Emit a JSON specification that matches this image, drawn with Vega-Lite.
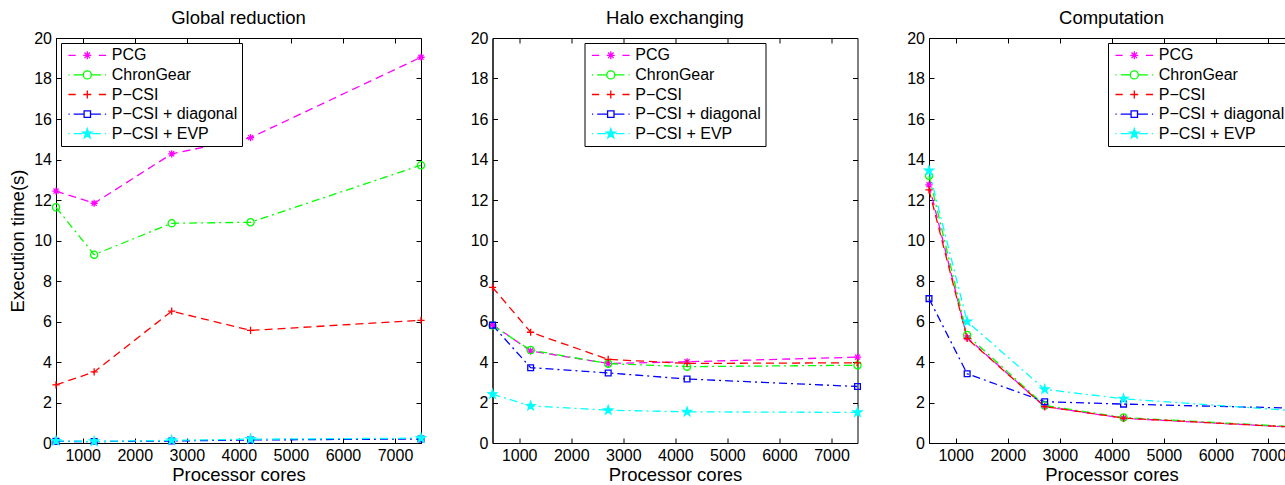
{
  "$schema": "https://vega.github.io/schema/vega-lite/v6.json",
  "background": "white",
  "padding": {"left": 8, "top": 8, "right": 0, "bottom": 0},
  "datasets": {
    "timing": [
      {"panel": "global", "series": "PCG", "cores": 487, "time": 12.44},
      {"panel": "global", "series": "PCG", "cores": 1220, "time": 11.84},
      {"panel": "global", "series": "PCG", "cores": 2710, "time": 14.28},
      {"panel": "global", "series": "PCG", "cores": 4225, "time": 15.08},
      {"panel": "global", "series": "PCG", "cores": 7500, "time": 19.05},
      {"panel": "global", "series": "ChronGear", "cores": 487, "time": 11.64},
      {"panel": "global", "series": "ChronGear", "cores": 1220, "time": 9.3},
      {"panel": "global", "series": "ChronGear", "cores": 2710, "time": 10.85},
      {"panel": "global", "series": "ChronGear", "cores": 4225, "time": 10.9},
      {"panel": "global", "series": "ChronGear", "cores": 7500, "time": 13.72},
      {"panel": "global", "series": "P−CSI", "cores": 487, "time": 2.87},
      {"panel": "global", "series": "P−CSI", "cores": 1220, "time": 3.51},
      {"panel": "global", "series": "P−CSI", "cores": 2710, "time": 6.51},
      {"panel": "global", "series": "P−CSI", "cores": 4225, "time": 5.56},
      {"panel": "global", "series": "P−CSI", "cores": 7500, "time": 6.06},
      {"panel": "global", "series": "P−CSI + diagonal", "cores": 487, "time": 0.08},
      {"panel": "global", "series": "P−CSI + diagonal", "cores": 1220, "time": 0.07},
      {"panel": "global", "series": "P−CSI + diagonal", "cores": 2710, "time": 0.1},
      {"panel": "global", "series": "P−CSI + diagonal", "cores": 4225, "time": 0.15},
      {"panel": "global", "series": "P−CSI + diagonal", "cores": 7500, "time": 0.2},
      {"panel": "global", "series": "P−CSI + EVP", "cores": 487, "time": 0.1},
      {"panel": "global", "series": "P−CSI + EVP", "cores": 1220, "time": 0.08},
      {"panel": "global", "series": "P−CSI + EVP", "cores": 2710, "time": 0.13},
      {"panel": "global", "series": "P−CSI + EVP", "cores": 4225, "time": 0.19},
      {"panel": "global", "series": "P−CSI + EVP", "cores": 7500, "time": 0.24},

      {"panel": "halo", "series": "PCG", "cores": 487, "time": 5.85},
      {"panel": "halo", "series": "PCG", "cores": 1220, "time": 4.54},
      {"panel": "halo", "series": "PCG", "cores": 2710, "time": 3.93},
      {"panel": "halo", "series": "PCG", "cores": 4225, "time": 4.01},
      {"panel": "halo", "series": "PCG", "cores": 7500, "time": 4.24},
      {"panel": "halo", "series": "ChronGear", "cores": 487, "time": 5.8},
      {"panel": "halo", "series": "ChronGear", "cores": 1220, "time": 4.59},
      {"panel": "halo", "series": "ChronGear", "cores": 2710, "time": 3.92},
      {"panel": "halo", "series": "ChronGear", "cores": 4225, "time": 3.77},
      {"panel": "halo", "series": "ChronGear", "cores": 7500, "time": 3.84},
      {"panel": "halo", "series": "P−CSI", "cores": 487, "time": 7.69},
      {"panel": "halo", "series": "P−CSI", "cores": 1220, "time": 5.47},
      {"panel": "halo", "series": "P−CSI", "cores": 2710, "time": 4.13},
      {"panel": "halo", "series": "P−CSI", "cores": 4225, "time": 3.93},
      {"panel": "halo", "series": "P−CSI", "cores": 7500, "time": 3.96},
      {"panel": "halo", "series": "P−CSI + diagonal", "cores": 487, "time": 5.82},
      {"panel": "halo", "series": "P−CSI + diagonal", "cores": 1220, "time": 3.72},
      {"panel": "halo", "series": "P−CSI + diagonal", "cores": 2710, "time": 3.46},
      {"panel": "halo", "series": "P−CSI + diagonal", "cores": 4225, "time": 3.16},
      {"panel": "halo", "series": "P−CSI + diagonal", "cores": 7500, "time": 2.79},
      {"panel": "halo", "series": "P−CSI + EVP", "cores": 487, "time": 2.41},
      {"panel": "halo", "series": "P−CSI + EVP", "cores": 1220, "time": 1.83},
      {"panel": "halo", "series": "P−CSI + EVP", "cores": 2710, "time": 1.62},
      {"panel": "halo", "series": "P−CSI + EVP", "cores": 4225, "time": 1.54},
      {"panel": "halo", "series": "P−CSI + EVP", "cores": 7500, "time": 1.51},

      {"panel": "comp", "series": "PCG", "cores": 487, "time": 12.75},
      {"panel": "comp", "series": "PCG", "cores": 1220, "time": 5.2},
      {"panel": "comp", "series": "PCG", "cores": 2710, "time": 1.8},
      {"panel": "comp", "series": "PCG", "cores": 4225, "time": 1.22},
      {"panel": "comp", "series": "PCG", "cores": 7500, "time": 0.78},
      {"panel": "comp", "series": "ChronGear", "cores": 487, "time": 13.2},
      {"panel": "comp", "series": "ChronGear", "cores": 1220, "time": 5.33},
      {"panel": "comp", "series": "ChronGear", "cores": 2710, "time": 1.85},
      {"panel": "comp", "series": "ChronGear", "cores": 4225, "time": 1.26},
      {"panel": "comp", "series": "ChronGear", "cores": 7500, "time": 0.8},
      {"panel": "comp", "series": "P−CSI", "cores": 487, "time": 12.5},
      {"panel": "comp", "series": "P−CSI", "cores": 1220, "time": 5.16},
      {"panel": "comp", "series": "P−CSI", "cores": 2710, "time": 1.8},
      {"panel": "comp", "series": "P−CSI", "cores": 4225, "time": 1.23},
      {"panel": "comp", "series": "P−CSI", "cores": 7500, "time": 0.78},
      {"panel": "comp", "series": "P−CSI + diagonal", "cores": 487, "time": 7.13},
      {"panel": "comp", "series": "P−CSI + diagonal", "cores": 1220, "time": 3.42},
      {"panel": "comp", "series": "P−CSI + diagonal", "cores": 2710, "time": 2.04},
      {"panel": "comp", "series": "P−CSI + diagonal", "cores": 4225, "time": 1.92},
      {"panel": "comp", "series": "P−CSI + diagonal", "cores": 7500, "time": 1.72},
      {"panel": "comp", "series": "P−CSI + EVP", "cores": 487, "time": 13.45},
      {"panel": "comp", "series": "P−CSI + EVP", "cores": 1220, "time": 6.0},
      {"panel": "comp", "series": "P−CSI + EVP", "cores": 2710, "time": 2.65},
      {"panel": "comp", "series": "P−CSI + EVP", "cores": 4225, "time": 2.18},
      {"panel": "comp", "series": "P−CSI + EVP", "cores": 7500, "time": 1.6}
    ]
  },
  "data": {"name": "timing"},
  "spacing": 40.5,
  "hconcat": [
    {
      "width": 365,
      "height": 405,
      "title": {"text": "Global reduction"},
      "transform": [{"filter": "datum.panel === 'global'"}],
      "layer": [
        {
          "mark": {"type": "line", "strokeWidth": 1.3},
          "encoding": {
            "x": {"field": "cores", "type": "quantitative", "scale": {"domain": [487, 7500], "nice": false, "zero": false}, "axis": {"values": [1000, 2000, 3000, 4000, 5000, 6000, 7000], "format": "d", "title": "Processor cores"}},
            "y": {"field": "time", "type": "quantitative", "scale": {"domain": [0, 20], "nice": false}, "axis": {"values": [0, 2, 4, 6, 8, 10, 12, 14, 16, 18, 20], "title": "Execution time(s)"}},
            "color": {"field": "series", "type": "nominal", "scale": {"domain": ["PCG", "ChronGear", "P−CSI", "P−CSI + diagonal", "P−CSI + EVP"], "range": ["#ff00ff", "#00ff00", "#ff0000", "#0000ff", "#00ffff"]}, "legend": null},
            "strokeDash": {"field": "series", "type": "nominal", "scale": {"domain": ["PCG", "ChronGear", "P−CSI", "P−CSI + diagonal", "P−CSI + EVP"], "range": [[8, 5], [8, 4, 2, 4], [8, 5], [8, 4, 2, 4], [8, 4, 2, 4]]}, "legend": null}
          }
        },
        {
          "mark": {"type": "point", "filled": false, "size": 52, "strokeWidth": 1.3, "opacity": 1},
          "encoding": {
            "x": {"field": "cores", "type": "quantitative", "axis": {"orient": "top", "values": [1000, 2000, 3000, 4000, 5000, 6000, 7000], "labels": false, "title": null, "domain": false}},
            "y": {"field": "time", "type": "quantitative", "axis": {"orient": "right", "values": [0, 2, 4, 6, 8, 10, 12, 14, 16, 18, 20], "labels": false, "title": null, "domain": false}},
            "color": {"field": "series", "type": "nominal", "scale": {"domain": ["PCG", "ChronGear", "P−CSI", "P−CSI + diagonal", "P−CSI + EVP"], "range": ["#ff00ff", "#00ff00", "#ff0000", "#0000ff", "#00ffff"]}, "legend": null},
            "shape": {"field": "series", "type": "nominal", "scale": {"domain": ["PCG", "ChronGear", "P−CSI", "P−CSI + diagonal", "P−CSI + EVP"], "range": ["M-1,0L1,0M0,-1L0,1M-0.7,-0.7L0.7,0.7M-0.7,0.7L0.7,-0.7", "M1,0A1,1,0,1,1,-1,0A1,1,0,1,1,1,0Z", "M-1,0L1,0M0,-1L0,1", "M-0.8,-0.8L0.8,-0.8L0.8,0.8L-0.8,0.8Z", "M0,-1.25L0.28,-0.39L1.19,-0.39L0.46,0.15L0.73,1.01L0,0.48L-0.73,1.01L-0.46,0.15L-1.19,-0.39L-0.28,-0.39Z"]}, "legend": null},
            "fill": {"field": "series", "type": "nominal", "scale": {"domain": ["PCG", "ChronGear", "P−CSI", "P−CSI + diagonal", "P−CSI + EVP"], "range": ["#ff00ff", "transparent", "transparent", "transparent", "#00ffff"]}, "legend": null}
          }
        },
        {
          "transform": [{"filter": "false"}],
          "mark": {"type": "point", "filled": false, "strokeWidth": 1.3, "opacity": 1},
          "encoding": {
            "x": {"field": "cores", "type": "quantitative", "axis": null},
            "y": {"field": "time", "type": "quantitative", "axis": null},
            "color": {"field": "series", "type": "nominal", "scale": {"domain": ["PCG", "ChronGear", "P−CSI", "P−CSI + diagonal", "P−CSI + EVP"], "range": ["#ff00ff", "#00ff00", "#ff0000", "#0000ff", "#00ffff"]}, "legend": {"orient": "top-left", "offset": 5, "title": null}},
            "shape": {"field": "series", "type": "nominal", "scale": {"domain": ["PCG", "ChronGear", "P−CSI", "P−CSI + diagonal", "P−CSI + EVP"], "range": ["M-4.7,0L-2.9,0M2.9,0L4.7,0M-1,0L1,0M0,-1L0,1M-0.7,-0.7L0.7,0.7M-0.7,0.7L0.7,-0.7", "M-4.7,0L-4.4,0M-3.4,0L-1,0M1,0L3.4,0M4.4,0L4.7,0M1,0A1,1,0,1,1,-1,0A1,1,0,1,1,1,0Z", "M-4.7,0L-2.9,0M2.9,0L4.7,0M-1,0L1,0M0,-1L0,1", "M-4.7,0L-4.4,0M-3.4,0L-0.8,0M0.8,0L3.4,0M4.4,0L4.7,0M-0.8,-0.8L0.8,-0.8L0.8,0.8L-0.8,0.8Z", "M-4.7,0L-4.4,0M-3.4,0L-1.2,0M1.2,0L3.4,0M4.4,0L4.7,0M0,-1.25L0.28,-0.39L1.19,-0.39L0.46,0.15L0.73,1.01L0,0.48L-0.73,1.01L-0.46,0.15L-1.19,-0.39L-0.28,-0.39Z"]}, "legend": null},
            "fill": {"field": "series", "type": "nominal", "scale": {"domain": ["PCG", "ChronGear", "P−CSI", "P−CSI + diagonal", "P−CSI + EVP"], "range": ["#ff00ff", "transparent", "transparent", "transparent", "#00ffff"]}, "legend": null}
          }
        }
      ],
      "resolve": {"axis": {"x": "independent", "y": "independent"}, "scale": {"color": "independent", "shape": "independent", "fill": "independent"}}
    },
    {
      "width": 365,
      "height": 405,
      "title": {"text": "Halo exchanging"},
      "transform": [{"filter": "datum.panel === 'halo'"}],
      "layer": [
        {
          "mark": {"type": "line", "strokeWidth": 1.3},
          "encoding": {
            "x": {"field": "cores", "type": "quantitative", "scale": {"domain": [487, 7500], "nice": false, "zero": false}, "axis": {"values": [1000, 2000, 3000, 4000, 5000, 6000, 7000], "format": "d", "title": "Processor cores"}},
            "y": {"field": "time", "type": "quantitative", "scale": {"domain": [0, 20], "nice": false}, "axis": {"values": [0, 2, 4, 6, 8, 10, 12, 14, 16, 18, 20], "title": null}},
            "color": {"field": "series", "type": "nominal", "scale": {"domain": ["PCG", "ChronGear", "P−CSI", "P−CSI + diagonal", "P−CSI + EVP"], "range": ["#ff00ff", "#00ff00", "#ff0000", "#0000ff", "#00ffff"]}, "legend": null},
            "strokeDash": {"field": "series", "type": "nominal", "scale": {"domain": ["PCG", "ChronGear", "P−CSI", "P−CSI + diagonal", "P−CSI + EVP"], "range": [[8, 5], [8, 4, 2, 4], [8, 5], [8, 4, 2, 4], [8, 4, 2, 4]]}, "legend": null}
          }
        },
        {
          "mark": {"type": "point", "filled": false, "size": 52, "strokeWidth": 1.3, "opacity": 1},
          "encoding": {
            "x": {"field": "cores", "type": "quantitative", "axis": {"orient": "top", "values": [1000, 2000, 3000, 4000, 5000, 6000, 7000], "labels": false, "title": null, "domain": false}},
            "y": {"field": "time", "type": "quantitative", "axis": {"orient": "right", "values": [0, 2, 4, 6, 8, 10, 12, 14, 16, 18, 20], "labels": false, "title": null, "domain": false}},
            "color": {"field": "series", "type": "nominal", "scale": {"domain": ["PCG", "ChronGear", "P−CSI", "P−CSI + diagonal", "P−CSI + EVP"], "range": ["#ff00ff", "#00ff00", "#ff0000", "#0000ff", "#00ffff"]}, "legend": null},
            "shape": {"field": "series", "type": "nominal", "scale": {"domain": ["PCG", "ChronGear", "P−CSI", "P−CSI + diagonal", "P−CSI + EVP"], "range": ["M-1,0L1,0M0,-1L0,1M-0.7,-0.7L0.7,0.7M-0.7,0.7L0.7,-0.7", "M1,0A1,1,0,1,1,-1,0A1,1,0,1,1,1,0Z", "M-1,0L1,0M0,-1L0,1", "M-0.8,-0.8L0.8,-0.8L0.8,0.8L-0.8,0.8Z", "M0,-1.25L0.28,-0.39L1.19,-0.39L0.46,0.15L0.73,1.01L0,0.48L-0.73,1.01L-0.46,0.15L-1.19,-0.39L-0.28,-0.39Z"]}, "legend": null},
            "fill": {"field": "series", "type": "nominal", "scale": {"domain": ["PCG", "ChronGear", "P−CSI", "P−CSI + diagonal", "P−CSI + EVP"], "range": ["#ff00ff", "transparent", "transparent", "transparent", "#00ffff"]}, "legend": null}
          }
        },
        {
          "transform": [{"filter": "false"}],
          "mark": {"type": "point", "filled": false, "strokeWidth": 1.3, "opacity": 1},
          "encoding": {
            "x": {"field": "cores", "type": "quantitative", "axis": null},
            "y": {"field": "time", "type": "quantitative", "axis": null},
            "color": {"field": "series", "type": "nominal", "scale": {"domain": ["PCG", "ChronGear", "P−CSI", "P−CSI + diagonal", "P−CSI + EVP"], "range": ["#ff00ff", "#00ff00", "#ff0000", "#0000ff", "#00ffff"]}, "legend": {"orient": "none", "legendX": 92, "legendY": 5, "title": null}},
            "shape": {"field": "series", "type": "nominal", "scale": {"domain": ["PCG", "ChronGear", "P−CSI", "P−CSI + diagonal", "P−CSI + EVP"], "range": ["M-4.7,0L-2.9,0M2.9,0L4.7,0M-1,0L1,0M0,-1L0,1M-0.7,-0.7L0.7,0.7M-0.7,0.7L0.7,-0.7", "M-4.7,0L-4.4,0M-3.4,0L-1,0M1,0L3.4,0M4.4,0L4.7,0M1,0A1,1,0,1,1,-1,0A1,1,0,1,1,1,0Z", "M-4.7,0L-2.9,0M2.9,0L4.7,0M-1,0L1,0M0,-1L0,1", "M-4.7,0L-4.4,0M-3.4,0L-0.8,0M0.8,0L3.4,0M4.4,0L4.7,0M-0.8,-0.8L0.8,-0.8L0.8,0.8L-0.8,0.8Z", "M-4.7,0L-4.4,0M-3.4,0L-1.2,0M1.2,0L3.4,0M4.4,0L4.7,0M0,-1.25L0.28,-0.39L1.19,-0.39L0.46,0.15L0.73,1.01L0,0.48L-0.73,1.01L-0.46,0.15L-1.19,-0.39L-0.28,-0.39Z"]}, "legend": null},
            "fill": {"field": "series", "type": "nominal", "scale": {"domain": ["PCG", "ChronGear", "P−CSI", "P−CSI + diagonal", "P−CSI + EVP"], "range": ["#ff00ff", "transparent", "transparent", "transparent", "#00ffff"]}, "legend": null}
          }
        }
      ],
      "resolve": {"axis": {"x": "independent", "y": "independent"}, "scale": {"color": "independent", "shape": "independent", "fill": "independent"}}
    },
    {
      "width": 365,
      "height": 405,
      "title": {"text": "Computation"},
      "transform": [{"filter": "datum.panel === 'comp'"}],
      "layer": [
        {
          "mark": {"type": "line", "strokeWidth": 1.3},
          "encoding": {
            "x": {"field": "cores", "type": "quantitative", "scale": {"domain": [487, 7500], "nice": false, "zero": false}, "axis": {"values": [1000, 2000, 3000, 4000, 5000, 6000, 7000], "format": "d", "title": "Processor cores"}},
            "y": {"field": "time", "type": "quantitative", "scale": {"domain": [0, 20], "nice": false}, "axis": {"values": [0, 2, 4, 6, 8, 10, 12, 14, 16, 18, 20], "title": null}},
            "color": {"field": "series", "type": "nominal", "scale": {"domain": ["PCG", "ChronGear", "P−CSI", "P−CSI + diagonal", "P−CSI + EVP"], "range": ["#ff00ff", "#00ff00", "#ff0000", "#0000ff", "#00ffff"]}, "legend": null},
            "strokeDash": {"field": "series", "type": "nominal", "scale": {"domain": ["PCG", "ChronGear", "P−CSI", "P−CSI + diagonal", "P−CSI + EVP"], "range": [[8, 5], [8, 4, 2, 4], [8, 5], [8, 4, 2, 4], [8, 4, 2, 4]]}, "legend": null}
          }
        },
        {
          "mark": {"type": "point", "filled": false, "size": 52, "strokeWidth": 1.3, "opacity": 1},
          "encoding": {
            "x": {"field": "cores", "type": "quantitative", "axis": {"orient": "top", "values": [1000, 2000, 3000, 4000, 5000, 6000, 7000], "labels": false, "title": null, "domain": false}},
            "y": {"field": "time", "type": "quantitative", "axis": {"orient": "right", "values": [0, 2, 4, 6, 8, 10, 12, 14, 16, 18, 20], "labels": false, "title": null, "domain": false}},
            "color": {"field": "series", "type": "nominal", "scale": {"domain": ["PCG", "ChronGear", "P−CSI", "P−CSI + diagonal", "P−CSI + EVP"], "range": ["#ff00ff", "#00ff00", "#ff0000", "#0000ff", "#00ffff"]}, "legend": null},
            "shape": {"field": "series", "type": "nominal", "scale": {"domain": ["PCG", "ChronGear", "P−CSI", "P−CSI + diagonal", "P−CSI + EVP"], "range": ["M-1,0L1,0M0,-1L0,1M-0.7,-0.7L0.7,0.7M-0.7,0.7L0.7,-0.7", "M1,0A1,1,0,1,1,-1,0A1,1,0,1,1,1,0Z", "M-1,0L1,0M0,-1L0,1", "M-0.8,-0.8L0.8,-0.8L0.8,0.8L-0.8,0.8Z", "M0,-1.25L0.28,-0.39L1.19,-0.39L0.46,0.15L0.73,1.01L0,0.48L-0.73,1.01L-0.46,0.15L-1.19,-0.39L-0.28,-0.39Z"]}, "legend": null},
            "fill": {"field": "series", "type": "nominal", "scale": {"domain": ["PCG", "ChronGear", "P−CSI", "P−CSI + diagonal", "P−CSI + EVP"], "range": ["#ff00ff", "transparent", "transparent", "transparent", "#00ffff"]}, "legend": null}
          }
        },
        {
          "transform": [{"filter": "false"}],
          "mark": {"type": "point", "filled": false, "strokeWidth": 1.3, "opacity": 1},
          "encoding": {
            "x": {"field": "cores", "type": "quantitative", "axis": null},
            "y": {"field": "time", "type": "quantitative", "axis": null},
            "color": {"field": "series", "type": "nominal", "scale": {"domain": ["PCG", "ChronGear", "P−CSI", "P−CSI + diagonal", "P−CSI + EVP"], "range": ["#ff00ff", "#00ff00", "#ff0000", "#0000ff", "#00ffff"]}, "legend": {"orient": "top-right", "offset": 5, "title": null}},
            "shape": {"field": "series", "type": "nominal", "scale": {"domain": ["PCG", "ChronGear", "P−CSI", "P−CSI + diagonal", "P−CSI + EVP"], "range": ["M-4.7,0L-2.9,0M2.9,0L4.7,0M-1,0L1,0M0,-1L0,1M-0.7,-0.7L0.7,0.7M-0.7,0.7L0.7,-0.7", "M-4.7,0L-4.4,0M-3.4,0L-1,0M1,0L3.4,0M4.4,0L4.7,0M1,0A1,1,0,1,1,-1,0A1,1,0,1,1,1,0Z", "M-4.7,0L-2.9,0M2.9,0L4.7,0M-1,0L1,0M0,-1L0,1", "M-4.7,0L-4.4,0M-3.4,0L-0.8,0M0.8,0L3.4,0M4.4,0L4.7,0M-0.8,-0.8L0.8,-0.8L0.8,0.8L-0.8,0.8Z", "M-4.7,0L-4.4,0M-3.4,0L-1.2,0M1.2,0L3.4,0M4.4,0L4.7,0M0,-1.25L0.28,-0.39L1.19,-0.39L0.46,0.15L0.73,1.01L0,0.48L-0.73,1.01L-0.46,0.15L-1.19,-0.39L-0.28,-0.39Z"]}, "legend": null},
            "fill": {"field": "series", "type": "nominal", "scale": {"domain": ["PCG", "ChronGear", "P−CSI", "P−CSI + diagonal", "P−CSI + EVP"], "range": ["#ff00ff", "transparent", "transparent", "transparent", "#00ffff"]}, "legend": null}
          }
        }
      ],
      "resolve": {"axis": {"x": "independent", "y": "independent"}, "scale": {"color": "independent", "shape": "independent", "fill": "independent"}}
    }
  ],
  "resolve": {
    "scale": {"color": "independent", "shape": "independent", "fill": "independent", "strokeDash": "independent"}
  },
  "config": {
    "font": "Liberation Sans",
    "view": {"stroke": "black", "strokeWidth": 1},
    "axis": {
      "grid": false,
      "minExtent": 0,
      "domainColor": "black",
      "tickColor": "black",
      "tickSize": -5,
      "labelPadding": 9.5,
      "labelColor": "black",
      "labelFontSize": 16,
      "titleColor": "black",
      "titleFontSize": 18.5,
      "titleFontWeight": "normal",
      "titlePadding": 2
    },
    "axisY": {"titlePadding": 6.2},
    "title": {"fontSize": 18.5, "fontWeight": "normal", "color": "black", "offset": 3},
    "legend": {
      "labelFontSize": 16,
      "labelColor": "black",
      "strokeColor": "black",
      "fillColor": "white",
      "padding": 4.3,
      "symbolSize": 64,
      "symbolStrokeWidth": 1.3,
      "symbolFillColor": "transparent",
      "symbolOpacity": 1,
      "rowPadding": 3.6,
      "symbolOffset": 14,
      "labelOffset": 16.5
    }
  }
}
